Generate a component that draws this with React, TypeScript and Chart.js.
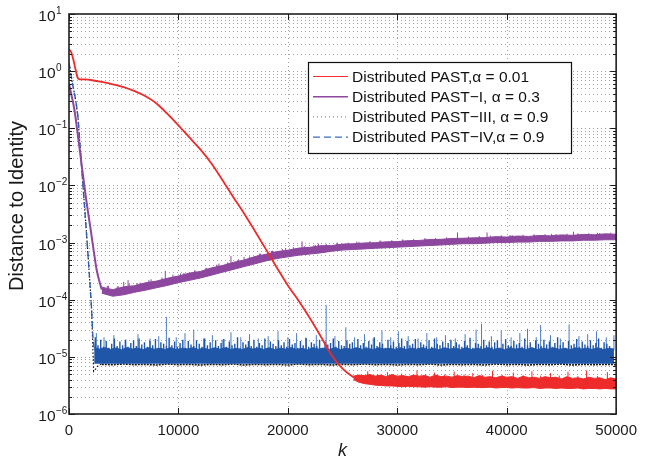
import React, { useEffect, useRef } from 'react';
import { Chart, registerables } from 'chart.js';

Chart.register(...registerables);

const FONT = '"Liberation Sans", Arial, Helvetica, sans-serif';

// ---------- axes ----------
const xTicks = [0, 10000, 20000, 30000, 40000, 50000];
const yExponents = [-6, -5, -4, -3, -2, -1, 0, 1];
const yMinorMultipliers = [2, 3, 4, 5, 6, 7, 8, 9];

// ---------- legend ----------
const legendLabels = [
  'Distributed PAST,α = 0.01',
  'Distributed PAST−I, α = 0.3',
  'Distributed PAST−III, α = 0.9',
  'Distributed PAST−IV,α = 0.9',
];

// ---------- Distributed PAST, alpha = 0.01 (red) ----------
const redK = [0, 200, 400, 600, 800, 1000, 1500, 2000, 3000, 4000, 5000, 6000, 7000, 8000, 9000, 10000, 11000, 12000, 13000, 14000, 15000, 16000, 17000, 18000, 19000, 20000, 21000, 22000, 23000, 24000, 25000, 26000, 26500];
const redV = [2.4, 2.14, 1.58, 1.07, 0.76, 0.72, 0.716, 0.7, 0.646, 0.589, 0.525, 0.447, 0.363, 0.272, 0.178, 0.112, 0.0692, 0.0427, 0.0245, 0.0126, 0.0063, 0.00324, 0.00158, 7.6e-4, 3.63e-4, 1.78e-4, 9.5e-5, 4.8e-5, 2.3e-5, 1.07e-5, 6.2e-6, 4.4e-6, 4.0e-6];
const redBandStart = 26000;
const redBandStep = 500;
const redBandTop = [
  4.6e-6, 4.8e-6, 4.7e-6, 4.9e-6, 4.6e-6, 4.8e-6, 4.5e-6, 4.9e-6, 4.6e-6, 4.7e-6,
  4.5e-6, 4.8e-6, 4.6e-6, 4.7e-6, 4.4e-6, 4.8e-6, 4.5e-6, 4.6e-6, 4.4e-6, 4.7e-6,
  4.5e-6, 4.6e-6, 4.3e-6, 4.7e-6, 4.4e-6, 4.5e-6, 4.3e-6, 4.6e-6, 4.4e-6, 4.5e-6,
  4.2e-6, 4.6e-6, 4.3e-6, 4.4e-6, 4.2e-6, 4.5e-6, 4.3e-6, 4.4e-6, 4.1e-6, 4.5e-6,
  4.2e-6, 4.3e-6, 4.1e-6, 4.4e-6, 4.2e-6, 4.3e-6, 4.0e-6, 4.3e-6, 4.1e-6,
];
const redBandBottom = [
  4.0e-6, 3.6e-6, 3.4e-6, 3.3e-6, 3.2e-6, 3.15e-6, 3.1e-6, 3.1e-6, 3.05e-6, 3.0e-6,
  3.05e-6, 3.0e-6, 3.0e-6, 2.95e-6, 3.0e-6, 2.95e-6, 2.95e-6, 3.0e-6, 2.9e-6, 2.95e-6,
  2.95e-6, 2.9e-6, 2.95e-6, 2.9e-6, 2.9e-6, 2.95e-6, 2.85e-6, 2.9e-6, 2.9e-6, 2.85e-6,
  2.9e-6, 2.85e-6, 2.85e-6, 2.9e-6, 2.8e-6, 2.85e-6, 2.85e-6, 2.8e-6, 2.85e-6, 2.8e-6,
  2.8e-6, 2.85e-6, 2.75e-6, 2.8e-6, 2.8e-6, 2.75e-6, 2.8e-6, 2.75e-6, 2.75e-6,
];
// [k, from, to]
const redSpikes = [
  [27300, 4.3e-6, 5.6e-6], [28200, 4.3e-6, 5.0e-6], [29100, 4.3e-6, 5.4e-6], [30400, 4.3e-6, 5.1e-6],
  [31800, 4.3e-6, 5.8e-6], [32600, 4.2e-6, 5.0e-6], [33400, 4.2e-6, 5.3e-6], [34300, 4.2e-6, 4.9e-6],
  [35200, 4.2e-6, 5.5e-6], [36100, 4.2e-6, 4.9e-6], [36900, 4.2e-6, 5.2e-6], [37800, 4.1e-6, 4.8e-6],
  [38700, 4.1e-6, 5.7e-6], [39600, 4.1e-6, 4.8e-6], [40600, 4.1e-6, 5.3e-6], [41500, 4.0e-6, 4.7e-6],
  [42300, 4.0e-6, 5.6e-6], [43100, 4.0e-6, 4.7e-6], [44000, 4.0e-6, 5.2e-6], [44800, 4.0e-6, 4.7e-6],
  [45600, 4.0e-6, 5.5e-6], [46500, 3.9e-6, 4.6e-6], [47300, 3.9e-6, 5.8e-6], [48300, 3.9e-6, 4.6e-6],
  [49200, 3.9e-6, 5.4e-6],
];

// ---------- Distributed PAST-I, alpha = 0.3 (purple) ----------
const purpleK = [0, 250, 500, 750, 1000, 1250, 1500, 1750, 2000, 2250, 2500, 2750, 3000];
const purpleV = [0.603, 0.363, 0.209, 0.0933, 0.0398, 0.0166, 0.00708, 0.00331, 0.00158, 7.4e-4, 3.55e-4, 2.19e-4, 1.5e-4];
const purpleBandStart = 3000;
const purpleBandStep = 1000;
const purpleBandTop = [
  1.66e-4, 1.5e-4, 1.68e-4, 1.76e-4, 1.98e-4, 2.12e-4, 2.38e-4, 2.6e-4, 2.92e-4, 3.12e-4,
  3.6e-4, 3.95e-4, 4.5e-4, 4.95e-4, 5.7e-4, 6.25e-4, 6.95e-4, 7.35e-4, 8.0e-4, 8.25e-4,
  8.8e-4, 8.85e-4, 9.4e-4, 9.5e-4, 9.85e-4, 9.95e-4, 1.03e-3, 1.04e-3, 1.08e-3, 1.09e-3,
  1.13e-3, 1.14e-3, 1.18e-3, 1.19e-3, 1.21e-3, 1.22e-3, 1.27e-3, 1.25e-3, 1.3e-3, 1.28e-3,
  1.33e-3, 1.31e-3, 1.36e-3, 1.34e-3, 1.39e-3, 1.37e-3, 1.42e-3, 1.4e-3,
];
const purpleBandBottom = [
  1.3e-4, 1.15e-4, 1.22e-4, 1.35e-4, 1.47e-4, 1.62e-4, 1.78e-4, 1.99e-4, 2.18e-4, 2.4e-4,
  2.68e-4, 3.02e-4, 3.38e-4, 3.8e-4, 4.25e-4, 4.78e-4, 5.25e-4, 5.62e-4, 6.02e-4, 6.3e-4,
  6.6e-4, 7.05e-4, 7.4e-4, 7.58e-4, 7.75e-4, 7.95e-4, 8.12e-4, 8.32e-4, 8.5e-4, 8.7e-4,
  8.9e-4, 9.1e-4, 9.32e-4, 9.55e-4, 9.55e-4, 9.75e-4, 1.0e-3, 1.0e-3, 1.02e-3, 1.02e-3,
  1.05e-3, 1.05e-3, 1.07e-3, 1.07e-3, 1.1e-3, 1.1e-3, 1.12e-3, 1.12e-3,
];
// large spikes above the purple band
const purpleSpikes = [
  [3600, 1.3e-4, 1.75e-4], [4400, 1.3e-4, 1.7e-4], [5000, 1.4e-4, 2.05e-4], [5400, 1.4e-4, 2.2e-4],
  [6200, 1.5e-4, 1.95e-4], [7300, 1.7e-4, 2.2e-4], [8800, 2.0e-4, 3.2e-4], [10200, 2.2e-4, 2.9e-4],
  [11500, 2.6e-4, 3.3e-4], [12600, 2.8e-4, 3.6e-4], [13700, 3.4e-4, 4.3e-4], [14800, 3.8e-4, 5.8e-4],
  [16000, 4.4e-4, 5.6e-4], [17400, 5.0e-4, 6.4e-4], [18600, 5.6e-4, 7.2e-4], [19800, 6.4e-4, 8.0e-4],
  [21300, 7.2e-4, 1.05e-3], [22800, 7.6e-4, 9.6e-4], [24500, 8.2e-4, 1.0e-3], [26300, 8.6e-4, 1.04e-3],
  [28400, 9.0e-4, 1.08e-3], [30500, 9.4e-4, 1.12e-3], [32600, 1.0e-3, 1.18e-3], [35500, 1.05e-3, 1.5e-3],
  [38200, 1.1e-3, 1.5e-3], [40300, 1.12e-3, 1.35e-3], [42500, 1.15e-3, 1.38e-3], [44100, 1.18e-3, 1.42e-3],
  [46100, 1.2e-3, 1.55e-3], [48300, 1.25e-3, 1.48e-3],
];
// small fuzz above the purple band
const purpleFuzz = [
  [3500, 1.4e-4, 1.75e-4], [4500, 1.35e-4, 1.72e-4], [5500, 1.45e-4, 1.9e-4], [6500, 1.55e-4, 2.0e-4],
  [7500, 1.7e-4, 2.28e-4], [8500, 1.85e-4, 2.45e-4], [9500, 2.05e-4, 2.75e-4], [10500, 2.25e-4, 2.95e-4],
  [11500, 2.5e-4, 3.2e-4], [12500, 2.8e-4, 3.6e-4], [13500, 3.1e-4, 4.1e-4], [14500, 3.5e-4, 4.5e-4],
  [15500, 3.9e-4, 5.1e-4], [16500, 4.4e-4, 5.7e-4], [17500, 4.9e-4, 6.4e-4], [18500, 5.4e-4, 7.1e-4],
  [19500, 5.9e-4, 7.7e-4], [20500, 6.3e-4, 8.3e-4], [21500, 6.7e-4, 8.7e-4], [22500, 7.0e-4, 9.1e-4],
  [23500, 7.3e-4, 9.5e-4], [24500, 7.6e-4, 9.7e-4], [25500, 7.9e-4, 1.0e-3], [26500, 8.1e-4, 1.03e-3],
  [27500, 8.3e-4, 1.06e-3], [28500, 8.5e-4, 1.08e-3], [29500, 8.7e-4, 1.1e-3], [30500, 8.9e-4, 1.13e-3],
  [31500, 9.1e-4, 1.15e-3], [32500, 9.3e-4, 1.18e-3], [33500, 9.5e-4, 1.2e-3], [34500, 9.7e-4, 1.23e-3],
  [35500, 9.9e-4, 1.26e-3], [36500, 1.0e-3, 1.28e-3], [37500, 1.02e-3, 1.3e-3], [38500, 1.04e-3, 1.32e-3],
  [39500, 1.06e-3, 1.34e-3], [40500, 1.07e-3, 1.35e-3], [41500, 1.08e-3, 1.37e-3], [42500, 1.1e-3, 1.38e-3],
  [43500, 1.11e-3, 1.4e-3], [44500, 1.12e-3, 1.41e-3], [45500, 1.13e-3, 1.43e-3], [46500, 1.15e-3, 1.45e-3],
  [47500, 1.16e-3, 1.46e-3], [48500, 1.17e-3, 1.47e-3], [49500, 1.18e-3, 1.49e-3],
];

// ---------- Distributed PAST-III, alpha = 0.9 (black dotted) ----------
const blackK = [0, 300, 600, 820, 1000, 1260, 1500, 1710, 1900, 2070, 2170, 2250, 2400, 2600, 2800, 3000];
const blackV = [1.38, 0.631, 0.316, 0.155, 0.0525, 0.011, 0.00263, 7.24e-4, 2.09e-4, 6.46e-5, 1.6e-5, 5.6e-6, 6.0e-6, 6.8e-6, 7.3e-6, 7.4e-6];
const blackFlatStart = 3000;
const blackFlatStep = 1000;
const blackFlat = [
  7.4e-6, 7.3e-6, 7.5e-6, 7.3e-6, 7.4e-6, 7.2e-6, 7.5e-6, 7.3e-6, 7.4e-6, 7.2e-6,
  7.4e-6, 7.3e-6, 7.5e-6, 7.2e-6, 7.4e-6, 7.3e-6, 7.4e-6, 7.2e-6, 7.5e-6, 7.3e-6,
  7.4e-6, 7.2e-6, 7.4e-6, 7.3e-6, 7.5e-6, 7.3e-6, 7.4e-6, 7.2e-6, 7.4e-6, 7.3e-6,
  7.5e-6, 7.2e-6, 7.4e-6, 7.3e-6, 7.4e-6, 7.2e-6, 7.5e-6, 7.3e-6, 7.4e-6, 7.2e-6,
  7.4e-6, 7.3e-6, 7.5e-6, 7.2e-6, 7.4e-6, 7.3e-6, 7.4e-6, 7.3e-6,
];

// ---------- Distributed PAST-IV, alpha = 0.9 (blue dashed) ----------
const blueK = [0, 300, 600, 820, 1000, 1260, 1500, 1710, 1900, 2070, 2170, 2300];
const blueV = [1.38, 0.631, 0.316, 0.155, 0.0525, 0.011, 0.00263, 7.24e-4, 2.09e-4, 6.46e-5, 2.51e-5, 1.4e-5];
const blueBandStart = 2300;
const blueBandStep = 500;
const blueBandFloor = 7.6e-6;
const blueBandTop = [
  1.45e-5, 1.37e-5, 1.45e-5, 1.35e-5, 1.43e-5, 1.33e-5, 1.45e-5, 1.37e-5, 1.42e-5, 1.34e-5, 1.45e-5, 1.36e-5, 1.41e-5, 1.35e-5, 1.45e-5, 1.33e-5, 1.42e-5, 1.37e-5, 1.45e-5, 1.35e-5,
  1.42e-5, 1.34e-5, 1.44e-5, 1.36e-5, 1.45e-5, 1.35e-5, 1.41e-5, 1.33e-5, 1.45e-5, 1.37e-5, 1.42e-5, 1.35e-5, 1.44e-5, 1.34e-5, 1.42e-5, 1.37e-5, 1.45e-5, 1.35e-5, 1.41e-5, 1.33e-5,
  1.45e-5, 1.37e-5, 1.42e-5, 1.35e-5, 1.44e-5, 1.34e-5, 1.41e-5, 1.36e-5, 1.45e-5, 1.35e-5, 1.42e-5, 1.33e-5, 1.45e-5, 1.37e-5, 1.41e-5, 1.35e-5, 1.44e-5, 1.34e-5, 1.42e-5, 1.36e-5,
  1.45e-5, 1.35e-5, 1.41e-5, 1.33e-5, 1.44e-5, 1.37e-5, 1.42e-5, 1.35e-5, 1.45e-5, 1.34e-5, 1.41e-5, 1.36e-5, 1.45e-5, 1.35e-5, 1.42e-5, 1.33e-5, 1.44e-5, 1.37e-5, 1.41e-5, 1.35e-5,
  1.45e-5, 1.34e-5, 1.42e-5, 1.36e-5, 1.44e-5, 1.35e-5, 1.41e-5, 1.33e-5, 1.45e-5, 1.37e-5, 1.42e-5, 1.35e-5, 1.44e-5, 1.34e-5, 1.41e-5, 1.37e-5,
];
// dense fuzz above the blue band: k = blueFuzzStart + i * blueFuzzStep
const blueFuzzStart = 2400;
const blueFuzzStep = 250;
const blueFuzzBase = 1.3e-5;
const blueFuzz = [
  2.2e-5, 1.6e-5, 2.0e-5, 1.5e-5, 1.9e-5, 1.45e-5, 1.7e-5, 2.1e-5, 1.55e-5, 1.85e-5, 1.6e-5, 2.0e-5, 1.5e-5, 1.75e-5, 1.95e-5, 1.55e-5, 2.1e-5, 1.65e-5, 1.8e-5,
  1.5e-5, 1.9e-5, 1.6e-5, 2.05e-5, 1.45e-5, 1.8e-5, 1.7e-5, 1.55e-5, 2.15e-5, 1.6e-5, 1.85e-5, 1.5e-5, 1.75e-5, 2.0e-5, 1.45e-5, 1.9e-5, 1.65e-5, 1.55e-5, 1.95e-5,
  1.7e-5, 1.5e-5, 2.1e-5, 1.6e-5, 1.8e-5, 1.45e-5, 1.95e-5, 1.55e-5, 1.75e-5, 2.05e-5, 1.5e-5, 1.85e-5, 1.6e-5, 1.7e-5, 2.2e-5, 1.45e-5, 1.8e-5, 1.65e-5, 1.9e-5,
  1.55e-5, 2.0e-5, 1.5e-5, 1.75e-5, 1.6e-5, 2.1e-5, 1.45e-5, 1.85e-5, 1.7e-5, 1.55e-5, 1.95e-5, 1.6e-5, 1.8e-5, 1.5e-5, 2.05e-5, 1.65e-5, 1.75e-5, 1.45e-5, 1.9e-5,
  1.6e-5, 2.15e-5, 1.5e-5, 1.8e-5, 1.7e-5, 1.55e-5, 2.0e-5, 1.45e-5, 1.85e-5, 1.65e-5, 1.75e-5, 2.1e-5, 1.5e-5, 1.9e-5, 1.6e-5, 1.55e-5, 1.95e-5, 1.7e-5, 1.8e-5,
  1.45e-5, 2.05e-5, 1.6e-5, 1.75e-5, 1.5e-5, 1.9e-5, 1.65e-5, 2.2e-5, 1.55e-5, 1.8e-5, 1.7e-5, 1.45e-5, 2.0e-5, 1.6e-5, 1.85e-5, 1.5e-5, 1.75e-5, 2.1e-5, 1.55e-5,
  1.9e-5, 1.6e-5, 1.7e-5, 2.05e-5, 1.45e-5, 1.8e-5, 1.65e-5, 1.55e-5, 1.95e-5, 1.5e-5, 2.1e-5, 1.7e-5, 1.6e-5, 1.85e-5, 1.45e-5, 1.75e-5, 2.0e-5, 1.55e-5, 1.8e-5,
  1.65e-5, 1.5e-5, 1.9e-5, 1.6e-5, 2.15e-5, 1.45e-5, 1.75e-5, 1.7e-5, 1.55e-5, 2.0e-5, 1.6e-5, 1.85e-5, 1.5e-5, 1.8e-5, 1.95e-5, 1.45e-5, 1.7e-5, 2.05e-5, 1.6e-5,
  1.55e-5, 1.9e-5, 1.65e-5, 1.75e-5, 1.5e-5, 2.1e-5, 1.6e-5, 1.8e-5, 1.45e-5, 1.95e-5, 1.7e-5, 1.55e-5, 2.0e-5, 1.65e-5, 1.85e-5, 1.5e-5, 1.75e-5, 2.2e-5, 1.6e-5,
  1.8e-5, 1.45e-5, 1.9e-5, 1.6e-5, 1.7e-5, 2.05e-5, 1.5e-5, 1.85e-5, 1.65e-5, 1.55e-5, 1.95e-5, 1.6e-5, 1.75e-5, 2.1e-5, 1.45e-5, 1.8e-5, 1.7e-5, 1.55e-5,
];
const blueSpikes = [
  [2500, 1.3e-5, 2.6e-5], [3200, 1.3e-5, 2.2e-5], [4100, 1.3e-5, 2.4e-5], [5200, 1.3e-5, 2.0e-5],
  [6300, 1.3e-5, 2.5e-5], [7400, 1.3e-5, 2.1e-5], [8200, 1.3e-5, 2.3e-5], [8900, 1.3e-5, 5.0e-5],
  [9800, 1.3e-5, 2.2e-5], [10600, 1.3e-5, 2.6e-5], [11400, 1.3e-5, 3.0e-5], [12300, 1.3e-5, 2.1e-5],
  [13100, 1.3e-5, 2.4e-5], [14000, 1.3e-5, 2.0e-5], [14800, 1.3e-5, 2.7e-5], [15700, 1.3e-5, 2.2e-5],
  [16500, 1.3e-5, 2.5e-5], [17300, 1.3e-5, 2.1e-5], [18200, 1.3e-5, 2.3e-5], [19100, 1.3e-5, 2.8e-5],
  [20000, 1.3e-5, 2.2e-5], [20800, 1.3e-5, 2.6e-5], [21700, 1.3e-5, 2.1e-5], [22600, 1.3e-5, 2.4e-5],
  [23500, 1.3e-5, 8.0e-5], [24300, 1.3e-5, 2.3e-5], [25300, 1.3e-5, 3.3e-5], [26100, 1.3e-5, 2.2e-5],
  [27000, 1.3e-5, 2.5e-5], [27800, 1.3e-5, 2.1e-5], [28600, 1.3e-5, 2.9e-5], [29400, 1.3e-5, 2.2e-5],
  [30100, 1.3e-5, 2.8e-5], [31000, 1.3e-5, 2.3e-5], [31900, 1.3e-5, 2.1e-5], [32700, 1.3e-5, 2.6e-5],
  [33600, 1.3e-5, 2.2e-5], [34400, 1.3e-5, 2.4e-5], [35300, 1.3e-5, 2.1e-5], [36200, 1.3e-5, 2.5e-5],
  [37200, 1.3e-5, 3.0e-5], [37700, 1.3e-5, 3.8e-5], [38600, 1.3e-5, 2.3e-5], [39500, 1.3e-5, 2.9e-5],
  [40400, 1.3e-5, 2.2e-5], [41200, 1.3e-5, 2.6e-5], [41900, 1.3e-5, 3.1e-5], [42700, 1.3e-5, 2.2e-5],
  [43100, 1.3e-5, 3.6e-5], [44000, 1.3e-5, 2.4e-5], [44900, 1.3e-5, 2.1e-5], [45700, 1.3e-5, 3.7e-5],
  [46600, 1.3e-5, 2.3e-5], [47400, 1.3e-5, 2.5e-5], [48200, 1.3e-5, 2.8e-5], [49100, 1.3e-5, 2.2e-5],
  [49800, 1.3e-5, 2.4e-5],
];

// ---------- colours ----------
const RED = '#ee2b2b';
const PURPLE = '#8d479f';
const BLUE = '#1f56a8';
const BLUE_LIGHT = '#4a7cc8';
const BLACK = '#151515';

const pairs = (ks: number[], vs: number[]) => ks.map((k, i) => ({ x: k, y: vs[i] }));
const stepped = (start: number, step: number, vs: number[]) => vs.map((v, i) => ({ x: start + i * step, y: v }));
const spikes = (list: number[][]) =>
  list.flatMap(([k, a, b]) => [
    { x: k, y: a },
    { x: k, y: b },
    { x: k, y: null as any },
  ]);
const fuzz = (start: number, step: number, base: number, vs: number[]) =>
  spikes(vs.map((v, i) => [start + i * step, base, v]));

const matlabPlugin = {
  id: 'matlabAxes',
  beforeDatasetsDraw(chart: any) {
    const { ctx, chartArea: a, scales } = chart;
    const x = scales.x;
    const y = scales.y;
    ctx.save();
    ctx.strokeStyle = '#a3a3a3';
    ctx.lineWidth = 1;
    ctx.setLineDash([1, 3]);
    ctx.beginPath();
    for (const t of xTicks) {
      if (t <= 0 || t >= 50000) continue;
      const px = Math.round(x.getPixelForValue(t)) + 0.5;
      ctx.moveTo(px, a.top);
      ctx.lineTo(px, a.bottom);
    }
    for (const e of yExponents) {
      if (e === 1) continue;
      for (const m of [1, ...yMinorMultipliers]) {
        if (e === -6 && m === 1) continue;
        const py = Math.round(y.getPixelForValue(m * Math.pow(10, e))) + 0.5;
        ctx.moveTo(a.left, py);
        ctx.lineTo(a.right, py);
      }
    }
    ctx.stroke();
    ctx.restore();
  },
  afterDatasetsDraw(chart: any) {
    const { ctx, chartArea: a, scales } = chart;
    const x = scales.x;
    const y = scales.y;
    ctx.save();
    // ticks
    ctx.strokeStyle = '#1a1a1a';
    ctx.lineWidth = 1;
    ctx.setLineDash([]);
    ctx.beginPath();
    for (const e of yExponents) {
      for (const m of [1, ...yMinorMultipliers]) {
        const v = m * Math.pow(10, e);
        if (v > 10.0001) continue;
        const py = Math.round(y.getPixelForValue(v)) + 0.5;
        const len = m === 1 ? 6 : 3;
        ctx.moveTo(a.left, py);
        ctx.lineTo(a.left + len, py);
        ctx.moveTo(a.right, py);
        ctx.lineTo(a.right - len, py);
      }
    }
    for (const t of xTicks) {
      const px = Math.round(x.getPixelForValue(t)) + 0.5;
      ctx.moveTo(px, a.bottom);
      ctx.lineTo(px, a.bottom - 6);
      ctx.moveTo(px, a.top);
      ctx.lineTo(px, a.top + 6);
    }
    ctx.stroke();
    // box
    ctx.lineWidth = 1.6;
    ctx.strokeStyle = '#1e1e1e';
    ctx.strokeRect(a.left, a.top, a.right - a.left, a.bottom - a.top);

    // y tick labels 10^e
    ctx.fillStyle = '#1a1a1a';
    for (const e of yExponents) {
      const py = y.getPixelForValue(Math.pow(10, e));
      ctx.font = `15.5px ${FONT}`;
      ctx.textAlign = 'right';
      ctx.textBaseline = 'alphabetic';
      ctx.fillText('10', 55.5, py + 7);
      ctx.font = `10px ${FONT}`;
      ctx.textAlign = 'left';
      ctx.fillText(e < 0 ? '−' + Math.abs(e) : String(e), 56, py);
    }
    // axis titles
    ctx.font = `italic 18px ${FONT}`;
    ctx.textAlign = 'center';
    ctx.textBaseline = 'middle';
    ctx.fillText('k', (a.left + a.right) / 2, 451);
    ctx.save();
    ctx.translate(17, 206);
    ctx.rotate(-Math.PI / 2);
    ctx.font = `20px ${FONT}`;
    ctx.fillText('Distance to Identity', 0, 0);
    ctx.restore();

    // legend
    const lx = 308;
    const ly = 62;
    const lw = 263;
    const lh = 91;
    ctx.fillStyle = '#ffffff';
    ctx.fillRect(lx, ly, lw, lh);
    ctx.lineWidth = 1.2;
    ctx.strokeStyle = '#111';
    ctx.strokeRect(lx + 0.5, ly + 0.5, lw, lh);
    const styles = [
      { c: '#ff2a2a', w: 1.2, d: [] as number[] },
      { c: PURPLE, w: 1.6, d: [] as number[] },
      { c: '#777', w: 1, d: [1, 3] },
      { c: '#3a6cc0', w: 1.3, d: [7, 4] },
    ];
    legendLabels.forEach((lab, i) => {
      const base = 81.5 + i * 20.2;
      const s = styles[i];
      ctx.beginPath();
      ctx.strokeStyle = s.c;
      ctx.lineWidth = s.w;
      ctx.setLineDash(s.d);
      ctx.moveTo(313, base - 5);
      ctx.lineTo(348, base - 5);
      ctx.stroke();
      ctx.setLineDash([]);
      ctx.fillStyle = '#111';
      ctx.font = `15.5px ${FONT}`;
      ctx.textAlign = 'left';
      ctx.textBaseline = 'alphabetic';
      ctx.fillText(lab, 352, base);
    });
    ctx.restore();
  },
};

export default function App() {
  const ref = useRef<HTMLCanvasElement>(null);
  useEffect(() => {
    const canvas = ref.current;
    if (!canvas) return;
    const line = (extra: any) => ({
      type: 'line',
      pointRadius: 0,
      tension: 0,
      fill: false,
      borderWidth: 1,
      ...extra,
    });
    const smooth = { cubicInterpolationMode: 'monotone' };
    const chart = new Chart(canvas, {
      type: 'line',
      data: {
        datasets: [
          // red
          line({ data: pairs(redK, redV), borderColor: RED, borderWidth: 1.8, order: 0, ...smooth }),
          line({ data: stepped(redBandStart, redBandStep, redBandTop), borderColor: RED, backgroundColor: RED, fill: '+1', order: 0 }),
          line({ data: stepped(redBandStart, redBandStep, redBandBottom), borderColor: RED, order: 0 }),
          line({ data: spikes(redSpikes), borderColor: RED, order: 0 }),
          // purple
          line({ data: pairs(purpleK, purpleV), borderColor: PURPLE, borderWidth: 2, order: 1, ...smooth }),
          line({ data: stepped(purpleBandStart, purpleBandStep, purpleBandTop), borderColor: PURPLE, backgroundColor: PURPLE, fill: '+1', order: 1 }),
          line({ data: stepped(purpleBandStart, purpleBandStep, purpleBandBottom), borderColor: PURPLE, order: 1 }),
          line({ data: spikes(purpleSpikes), borderColor: PURPLE, order: 1 }),
          line({ data: spikes(purpleFuzz), borderColor: PURPLE, order: 1 }),
          // blue
          line({ data: pairs(blueK, blueV), borderColor: '#2d60b4', borderWidth: 1.4, borderDash: [6, 4], order: 2, ...smooth }),
          line({ data: stepped(blueBandStart, blueBandStep, blueBandTop), borderColor: BLUE, backgroundColor: BLUE, fill: { value: blueBandFloor }, order: 2 }),
          line({ data: fuzz(blueFuzzStart, blueFuzzStep, blueFuzzBase, blueFuzz), borderColor: BLUE, borderWidth: 1.4, order: 2 }),
          line({ data: spikes(blueSpikes), borderColor: BLUE_LIGHT, order: 2 }),
          // black
          line({ data: pairs(blackK, blackV), borderColor: BLACK, borderWidth: 1.2, borderDash: [1.5, 2], order: 3 }),
          line({ data: stepped(blackFlatStart, blackFlatStep, blackFlat), borderColor: BLACK, borderWidth: 1.6, borderDash: [2, 1], order: 3 }),
        ] as any,
      },
      options: {
        animation: false,
        responsive: false,
        maintainAspectRatio: false,
        devicePixelRatio: 1,
        spanGaps: false,
        layout: { padding: { top: 14, right: 22, left: 0, bottom: 0 } },
        plugins: { legend: { display: false }, tooltip: { enabled: false } },
        elements: { point: { radius: 0 } },
        scales: {
          x: {
            type: 'linear',
            min: 0,
            max: 50000,
            grid: { display: false, drawTicks: false },
            border: { display: false },
            ticks: {
              autoSkip: false,
              maxRotation: 0,
              color: '#1a1a1a',
              padding: 8,
              font: { family: FONT, size: 15 },
              callback: (v: any) => String(v),
            },
            afterBuildTicks: (s: any) => {
              s.ticks = xTicks.map((v) => ({ value: v }));
            },
            afterFit: (s: any) => {
              s.height = 48;
            },
          },
          y: {
            type: 'logarithmic',
            min: 1e-6,
            max: 10,
            grid: { display: false, drawTicks: false },
            border: { display: false },
            ticks: { display: false },
            afterFit: (s: any) => {
              s.width = 69;
            },
          },
        },
      } as any,
      plugins: [matlabPlugin],
    });
    return () => chart.destroy();
  }, []);
  return (
    <div style={{ position: 'fixed', left: 0, top: 0, width: 645, height: 462, background: '#fff' }}>
      <canvas ref={ref} width={645} height={462} style={{ display: 'block', width: 645, height: 462 }} />
    </div>
  );
}
